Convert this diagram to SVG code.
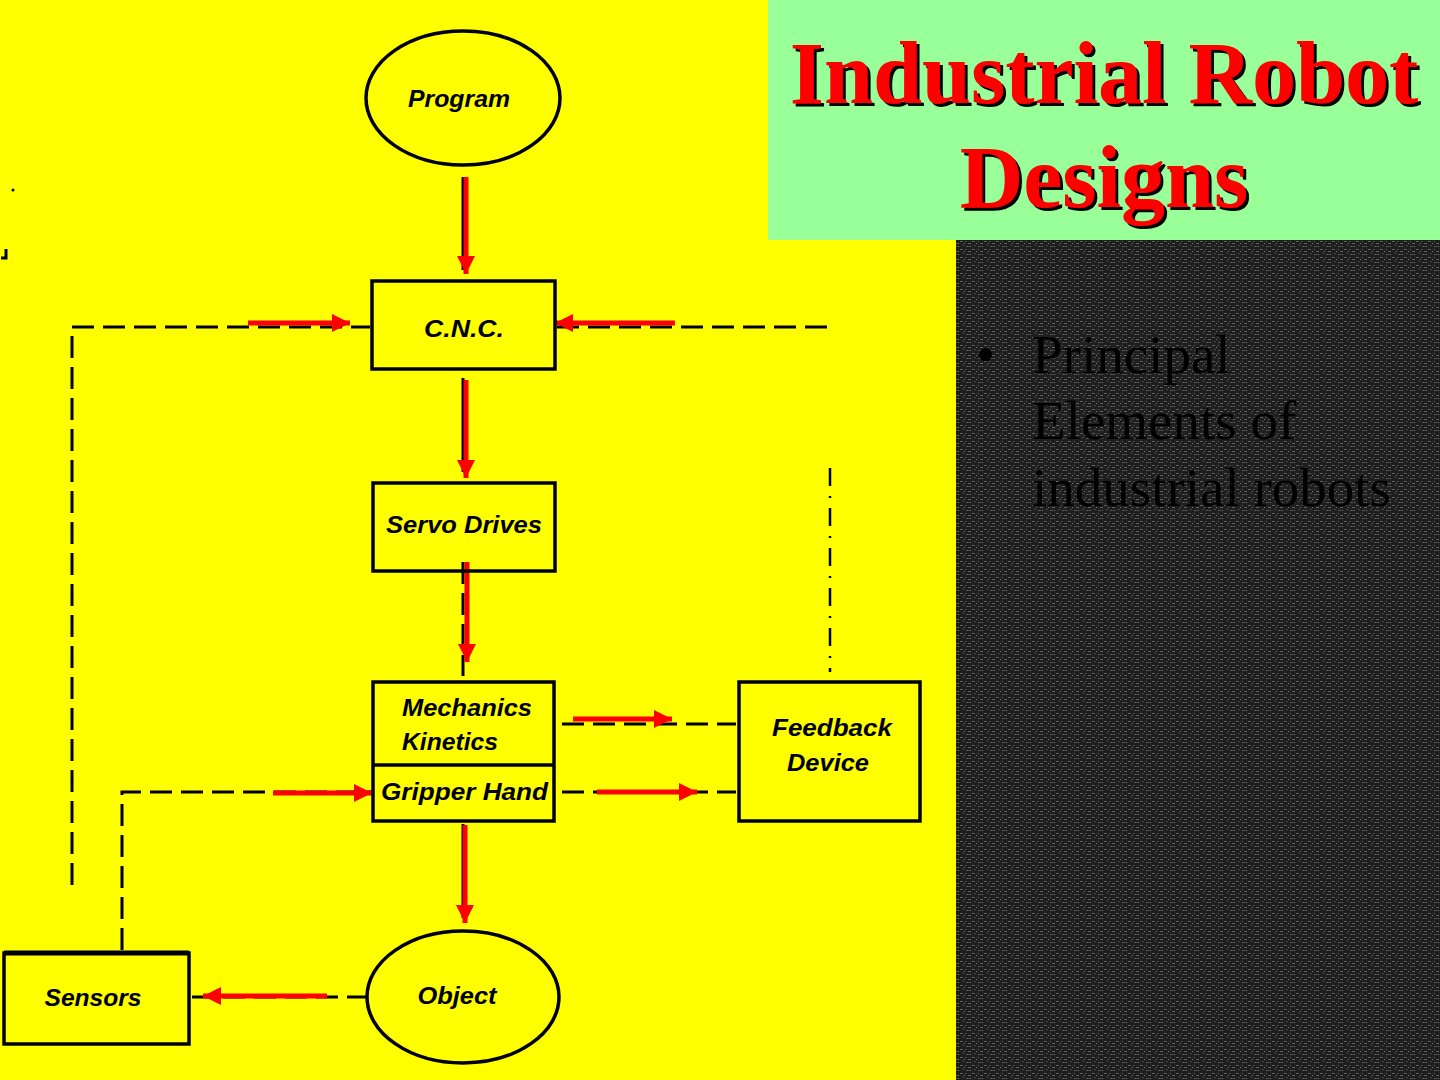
<svg xmlns="http://www.w3.org/2000/svg" width="1440" height="1080" viewBox="0 0 1440 1080">
<style>
.node{fill:none;stroke:#000;stroke-width:3.5}
.lbl{font-family:"Liberation Sans",Arial,sans-serif;font-style:italic;font-weight:bold;font-size:24px;fill:#000}
.blk{stroke:#000;stroke-width:3;fill:none}
.dash{stroke:#000;stroke-width:3;fill:none;stroke-dasharray:22 9}
.dashdot{stroke:#000;stroke-width:2.5;fill:none;stroke-dasharray:18 10 2 10}
.red{stroke:#f00;stroke-width:5;fill:none;marker-end:url(#ah)}
.title{font-family:"Liberation Serif","Times New Roman",serif;font-weight:bold;font-size:88px;text-anchor:middle;fill:#ff0000;filter:url(#shadow)}
.body{font-family:"Liberation Serif","Times New Roman",serif;font-size:55px;fill:#000}
</style>
<defs>
<filter id="shadow" x="-5%" y="-20%" width="110%" height="140%">
<feDropShadow dx="3" dy="3" stdDeviation="0" flood-color="#000" flood-opacity="1"/>
</filter>
<marker id="ah" markerUnits="userSpaceOnUse" markerWidth="22" markerHeight="20" refX="18" refY="9" orient="auto">
<path d="M0,0 L18,9 L0,18 Z" fill="#f00"/>
</marker>
<pattern id="tex" width="12" height="8" patternUnits="userSpaceOnUse">
<rect width="12" height="8" fill="#1f1f1f"/>
<rect x="0" y="1" width="3" height="1" fill="#5e5e5e"/>
<rect x="5" y="1" width="2" height="1" fill="#444"/>
<rect x="8" y="3" width="3" height="1" fill="#606060"/>
<rect x="2" y="5" width="2" height="1" fill="#4a4a4a"/>
<rect x="6" y="6" width="3" height="1" fill="#555"/>
<rect x="10" y="6" width="1" height="1" fill="#777"/>
<rect x="4" y="3" width="1" height="1" fill="#777"/>
</pattern>
</defs>

<!-- backgrounds -->
<rect x="0" y="0" width="956" height="1080" fill="#ffff00"/>
<rect x="956" y="240" width="484" height="840" fill="url(#tex)"/>
<rect x="768" y="0" width="672" height="240" fill="#99ff99"/>

<!-- title -->
<g id="title">
<text class="title" x="1104" y="103">Industrial Robot</text>
<text class="title" x="1104" y="207">Designs</text>
</g>

<!-- bullet text -->
<g id="bullets">
<text class="body" x="976" y="373">•</text>
<text class="body" x="1032" y="373">Principal</text>
<text class="body" x="1032" y="439">Elements of</text>
<text class="body" x="1032" y="506">industrial robots</text>
</g>

<!-- stray marks -->
<circle cx="13" cy="190" r="1.5" fill="#000"/>
<path d="M6,249 L6,258 L1,258" stroke="#000" stroke-width="3" fill="none"/>

<!-- connectors -->
<g id="connectors">
<line class="blk" x1="463" y1="177" x2="463" y2="270"/>
<line class="blk" x1="463" y1="378" x2="463" y2="472"/>
<line class="dash" x1="463" y1="562" x2="463" y2="676"/>
<line class="blk" x1="463" y1="824" x2="463" y2="918"/>
<path class="dash" d="M72,885 L72,327 L370,327"/>
<line class="dash" x1="557" y1="327" x2="830" y2="327"/>
<line class="dashdot" x1="830" y1="468" x2="830" y2="672"/>
<line class="dash" x1="562" y1="724" x2="736" y2="724"/>
<line class="dash" x1="562" y1="792" x2="736" y2="792"/>
<path class="dash" d="M122,950 L122,792 L372,792"/>
<line class="dash" x1="192" y1="997" x2="366" y2="997"/>

<line class="red" x1="466" y1="177" x2="466" y2="274"/>
<line class="red" x1="466" y1="380" x2="466" y2="478"/>
<line class="red" x1="467" y1="562" x2="467" y2="662"/>
<line class="red" x1="465" y1="825" x2="465" y2="923"/>
<line class="red" x1="248" y1="323" x2="350" y2="323"/>
<line class="red" x1="675" y1="323" x2="555" y2="323"/>
<line class="red" x1="573" y1="719" x2="672" y2="719"/>
<line class="red" x1="597" y1="792" x2="697" y2="792"/>
<line class="red" x1="273" y1="793" x2="372" y2="793"/>
<line class="red" x1="327" y1="996" x2="203" y2="996"/>
</g>

<!-- nodes -->
<g id="program">
<ellipse class="node" cx="463" cy="98" rx="97" ry="67"/>
<text class="lbl" x="459" y="107" text-anchor="middle" textLength="102" lengthAdjust="spacingAndGlyphs">Program</text>
</g>
<g id="cnc">
<rect class="node" x="372" y="281" width="183" height="88"/>
<text class="lbl" x="464" y="337" text-anchor="middle" textLength="80" lengthAdjust="spacingAndGlyphs">C.N.C.</text>
</g>
<g id="servo">
<rect class="node" x="373" y="483" width="182" height="88"/>
<text class="lbl" x="464" y="533" text-anchor="middle" textLength="156" lengthAdjust="spacingAndGlyphs">Servo Drives</text>
</g>
<g id="mechanics">
<rect class="node" x="373" y="682" width="181" height="139"/>
<line class="node" x1="373" y1="765" x2="554" y2="765" stroke-width="4"/>
<text class="lbl" x="402" y="716" textLength="130" lengthAdjust="spacingAndGlyphs">Mechanics</text>
<text class="lbl" x="402" y="750" textLength="96" lengthAdjust="spacingAndGlyphs">Kinetics</text>
</g>
<g id="gripper">
<text class="lbl" x="381" y="800" textLength="167" lengthAdjust="spacingAndGlyphs">Gripper Hand</text>
</g>
<g id="feedback">
<rect class="node" x="739" y="682" width="181" height="139"/>
<text class="lbl" x="832" y="736" text-anchor="middle" textLength="120" lengthAdjust="spacingAndGlyphs">Feedback</text>
<text class="lbl" x="828" y="771" text-anchor="middle" textLength="82" lengthAdjust="spacingAndGlyphs">Device</text>
</g>
<g id="sensors">
<rect class="node" x="4" y="953" width="185" height="91"/>
<line x1="4" y1="953" x2="189" y2="953" stroke="#000" stroke-width="5"/>
<text class="lbl" x="93" y="1006" text-anchor="middle" textLength="97" lengthAdjust="spacingAndGlyphs">Sensors</text>
</g>
<g id="object">
<ellipse class="node" cx="463" cy="997" rx="96" ry="66"/>
<text class="lbl" x="457" y="1004" text-anchor="middle" textLength="79" lengthAdjust="spacingAndGlyphs">Object</text>
</g>
</svg>
